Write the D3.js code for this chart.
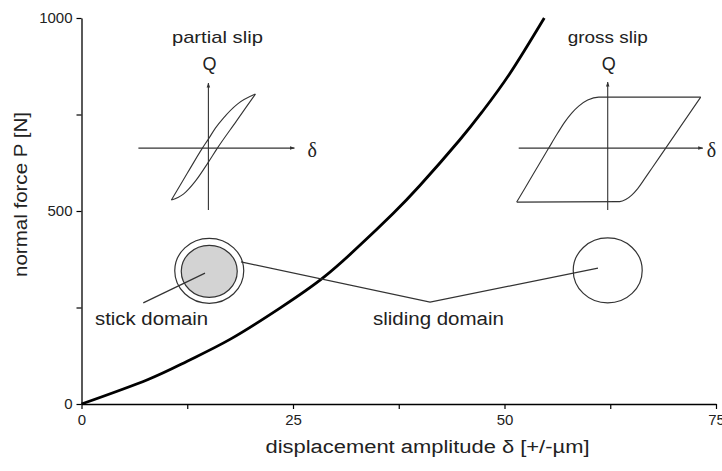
<!DOCTYPE html>
<html><head><meta charset="utf-8">
<script src="https://cdn.jsdelivr.net/npm/d3@7"></script>
<style>
html,body{margin:0;padding:0;background:#fff;}
svg{display:block;font-family:"Liberation Sans",Arial,sans-serif;}
</style></head><body>
<svg id="chart" width="722" height="471"></svg>
<script>
// Critical normal force vs. displacement amplitude: partial slip / gross slip boundary
const deltaValues = [0, 7.8, 12.5, 17.6, 23.5, 28.5, 32.9, 36.8, 40.0, 44.7, 47.4, 50.6, 54.7];
const forceValues = [0, 63, 111, 168, 249, 326, 411, 493, 566, 684, 758, 855, 1000];

const xTickValues = [0, 12.5, 25, 37.5, 50, 62.5, 75];
const xTickLabels = ["0", "", "25", "", "50", "", "75"];
const yTickValues = [0, 250, 500, 750, 1000];
const yTickLabels = ["0", "", "500", "", "1000"];

// Schematic fretting loops, tangential force Q vs. displacement δ (each branch sorted by δ)
const partialLoading   = [[-37,-52],[-21,-25],[-6,0],[0,9],[7,20],[15,30],[29,44],[47,54]];
const partialUnloading = [[-37,-52],[-25,-46],[-13,-33],[0,-14],[9,0],[28,27],[47,54]];
const grossLoading     = [[-91,-54],[-75,-27],[-59,0],[-50,15],[-43,26],[-36,35],[-29,42],[-20,48],[-9,51],[93,51]];
const grossUnloading   = [[-91,-54],[12,-53.5],[18,-51.5],[24,-47],[30,-40.5],[37,-30.6],[44,-20.4],[58,0],[93,51]];

// Inset placement (in chart units) and extents of the inset axes
const insetNames  = ["partial slip", "gross slip"];
const insetDelta  = [15, 62.2];
const insetForce  = [663, 663];
const insetAxisX  = [[-70, 86], [-89, 95]];
const insetAxisQ  = [[-62, 65], [-62, 66]];

// Contact area sketches: stick zone (shaded) inside the slip annulus
const contactDelta = [15.1, 62.2];
const contactForce = [345, 346];
const stickLeader   = [[14.6, 339], [7.3, 262]];
const slidingLeader = [[18.85, 368], [41.2, 264], [61.05, 352]];

const svg = d3.select("#chart");
const x = d3.scaleLinear().domain([0, 75]).range([81.5, 716]);
const y = d3.scaleLinear().domain([0, 1000]).range([404, 18]);
const ink = "#222";

// axes
const xAxis = svg.append("g").attr("transform", `translate(0,${y(0)})`)
  .call(d3.axisBottom(x).tickValues(xTickValues).tickFormat((d, i) => xTickLabels[i]).tickSize(5).tickSizeOuter(0));
const yAxis = svg.append("g").attr("transform", `translate(${x(0)},0)`)
  .call(d3.axisLeft(y).tickValues(yTickValues).tickFormat((d, i) => yTickLabels[i]).tickSize(5).tickSizeOuter(0));
[xAxis, yAxis].forEach(g => {
  g.select(".domain").attr("stroke", "#000").attr("stroke-width", 1.3);
  g.selectAll(".tick line").attr("stroke", "#000").attr("stroke-width", 1.2);
  g.selectAll(".tick text").attr("fill", ink).style("font-family", "'Liberation Sans Narrow','Liberation Sans',Arial,sans-serif").style("font-size", "15px");
});
xAxis.selectAll(".tick text").attr("y", 10);
yAxis.selectAll(".tick text").attr("x", -9);

// axis titles
svg.append("text").attr("x", 427.5).attr("y", 453).attr("text-anchor", "middle")
  .attr("fill", ink).style("font-size", "18px")
  .attr("textLength", 324).attr("lengthAdjust", "spacingAndGlyphs")
  .text("displacement amplitude δ  [+/-µm]");
svg.append("text").attr("transform", `translate(27,${194.5}) rotate(-90)`).attr("text-anchor", "middle")
  .attr("fill", ink).style("font-size", "18px")
  .attr("textLength", 165).attr("lengthAdjust", "spacingAndGlyphs")
  .text("normal force P [N]");

// boundary curve
const line = d3.line().x((d, i) => x(deltaValues[i])).y(d => y(d)).curve(d3.curveNatural);
svg.append("path").datum(forceValues).attr("d", line)
  .attr("fill", "none").attr("stroke", "#000").attr("stroke-width", 2.8).attr("stroke-linejoin", "round");

// arrowhead for the inset axes
svg.append("defs").append("marker").attr("id", "arr")
  .attr("viewBox", "0 0 10 10").attr("refX", 9).attr("refY", 5)
  .attr("markerWidth", 5).attr("markerHeight", 5).attr("markerUnits", "userSpaceOnUse").attr("orient", "auto")
  .append("path").attr("d", "M0,1.5L10,5L0,8.5Z").attr("fill", "#333");

const loops = [[partialLoading, partialUnloading], [grossLoading, grossUnloading]];
const titleLen = [91, 80];
insetNames.forEach((name, k) => {
  const cx = x(insetDelta[k]), cy = y(insetForce[k]);
  const sx = d3.scaleLinear().domain([0, 1]).range([cx, cx + 1]);
  const sq = d3.scaleLinear().domain([0, 1]).range([cy, cy - 1]);
  const g = svg.append("g");
  g.append("line").attr("x1", sx(insetAxisX[k][0])).attr("x2", sx(insetAxisX[k][1]))
    .attr("y1", sq(0)).attr("y2", sq(0)).attr("stroke", "#333").attr("stroke-width", 1.1).attr("marker-end", "url(#arr)");
  g.append("line").attr("x1", sx(0)).attr("x2", sx(0))
    .attr("y1", sq(insetAxisQ[k][0])).attr("y2", sq(insetAxisQ[k][1])).attr("stroke", "#333").attr("stroke-width", 1.1).attr("marker-end", "url(#arr)");
  const loopLine = d3.line().x(d => sx(d[0])).y(d => sq(d[1])).curve(d3.curveMonotoneX);
  loops[k].forEach(branch => {
    g.append("path").attr("d", loopLine(branch)).attr("fill", "none").attr("stroke", "#333").attr("stroke-width", 1.1);
  });
  g.append("text").attr("x", sx(k === 0 ? 9 : 0)).attr("y", sq(105)).attr("text-anchor", "middle")
    .attr("fill", ink).style("font-size", "17px")
    .attr("textLength", titleLen[k]).attr("lengthAdjust", "spacingAndGlyphs").text(name);
  g.append("text").attr("x", sx(1)).attr("y", sq(78)).attr("text-anchor", "middle")
    .attr("fill", ink).style("font-size", "18px").text("Q");
  g.append("text").attr("x", sx(99)).attr("y", sq(-9))
    .attr("fill", ink).style("font-family", "'Liberation Serif',serif").style("font-size", "20px").text("δ");
});

// contact area sketches
svg.append("ellipse").attr("cx", x(contactDelta[0])).attr("cy", y(contactForce[0])).attr("rx", 34.5).attr("ry", 32.5)
  .attr("fill", "none").attr("stroke", "#333").attr("stroke-width", 1.2);
svg.append("ellipse").attr("cx", x(contactDelta[0])).attr("cy", y(contactForce[0]) + 0.5).attr("rx", 28).attr("ry", 26)
  .attr("fill", "#d3d3d3").attr("stroke", "#333").attr("stroke-width", 1.2);
svg.append("ellipse").attr("cx", x(contactDelta[1])).attr("cy", y(contactForce[1])).attr("rx", 34.5).attr("ry", 32.5)
  .attr("fill", "none").attr("stroke", "#333").attr("stroke-width", 1.2);

const leader = d3.line().x(d => x(d[0])).y(d => y(d[1]));
svg.append("path").attr("d", leader(stickLeader)).attr("fill", "none").attr("stroke", "#333").attr("stroke-width", 1.2);
svg.append("path").attr("d", leader(slidingLeader)).attr("fill", "none").attr("stroke", "#333").attr("stroke-width", 1.2);

svg.append("text").attr("x", x(1.6)).attr("y", 325).attr("fill", ink).style("font-size", "18px")
  .attr("textLength", 113).attr("lengthAdjust", "spacingAndGlyphs").text("stick domain");
svg.append("text").attr("x", x(34.45)).attr("y", 325).attr("fill", ink).style("font-size", "18px")
  .attr("textLength", 131).attr("lengthAdjust", "spacingAndGlyphs").text("sliding domain");
</script>
</body></html>
